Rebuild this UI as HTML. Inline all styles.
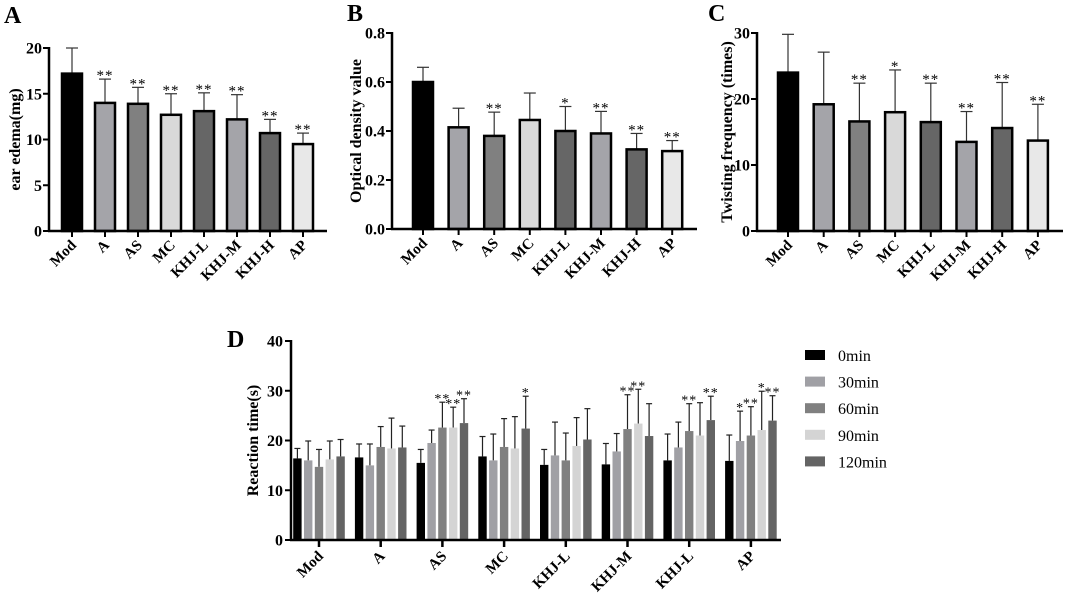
<!DOCTYPE html>
<html><head><meta charset="utf-8"><style>
body{margin:0;background:#fff}
svg{display:block;font-family:"Liberation Serif",serif;font-weight:bold}
</style></head><body>
<svg id="s" width="1065" height="604" viewBox="0 0 1065 604">
<text x="4" y="23" font-size="24">A</text>
<text x="347" y="21" font-size="24">B</text>
<text x="708" y="21" font-size="24">C</text>
<text x="227" y="347" font-size="24">D</text>
</svg>
<script>
const groups=["Mod","A","AS","MC","KHJ-L","KHJ-M","KHJ-H","AP"];
const aMeans=[17.2,14.0,13.9,12.7,13.1,12.2,10.7,9.5];
const aErr=[2.8,2.6,1.8,2.3,2.0,2.7,1.5,1.2];
const aStars=["","**","**","**","**","**","**","**"];
const aTicks=[0,5,10,15,20];
const bMeans=[0.60,0.415,0.38,0.445,0.40,0.39,0.325,0.318];
const bErr=[0.06,0.078,0.097,0.11,0.10,0.09,0.065,0.043];
const bStars=["","","**","","*","**","**","**"];
const bTicks=[0,0.2,0.4,0.6,0.8];
const cMeans=[24,19.2,16.6,18,16.5,13.5,15.6,13.7];
const cErr=[5.8,7.9,5.8,6.4,5.9,4.6,6.9,5.5];
const cStars=["","","**","*","**","**","**","**"];
const cTicks=[0,10,20,30];
const dGroups=["Mod","A","AS","MC","KHJ-L","KHJ-M","KHJ-L","AP"];
const dSeries=["0min","30min","60min","90min","120min"];
const d0=[16.4,16.6,15.5,16.8,15.1,15.2,16.0,15.9];
const d30=[16.0,15.0,19.5,16.0,17.0,17.8,18.6,19.9];
const d60=[14.7,18.7,22.6,18.7,16.0,22.3,21.9,21.0];
const d90=[16.2,18.4,22.6,18.4,18.9,23.4,21.0,22.1];
const d120=[16.8,18.6,23.5,22.4,20.2,20.9,24.1,24.0];
const e0=[2.0,2.7,2.7,4.0,3.1,4.2,5.3,5.2];
const e30=[3.9,4.3,2.6,5.3,6.7,3.6,5.1,6.0];
const e60=[3.5,4.1,5.1,5.7,5.5,6.9,5.5,5.8];
const e90=[3.7,6.1,4.1,6.4,5.7,6.9,6.6,7.8];
const e120=[3.4,4.3,4.9,6.5,6.2,6.5,4.8,5.0];
const s60=["","","**","","","**","**","**"];
const s90=["","","**","","","**","","*"];
const s120=["","","**","*","","","**","**"];
const s30=["","","","","","","","*"];
const dTicks=[0,10,20,30,40];

const svg=document.getElementById('s');
const NS="http://www.w3.org/2000/svg";
function mk(tag,at,txt){const e=document.createElementNS(NS,tag);for(const k in at)e.setAttribute(k,at[k]);if(txt!==undefined)e.textContent=txt;svg.appendChild(e);return e;}
const fillsA=["#000","#a4a4a9","#808080","#d9d9d9","#666","#a4a4a9","#666","#e8e8e8"];

function panel(p){
  const y=v=>p.y0-(v/p.max)*(p.y0-p.yTop);
  const x=i=>p.x0+p.step*i;
  p.means.forEach((m,i)=>{
    const cx=x(i);
    let e=mk('line',{x1:cx,x2:cx,y1:y(m),y2:y(m+p.err[i]),stroke:'#333','stroke-width':1.2});
    
    e=mk('line',{x1:cx-6,x2:cx+6,y1:y(m+p.err[i]),y2:y(m+p.err[i]),stroke:'#333','stroke-width':1.2});
    
    e=mk('rect',{x:cx-10,y:y(m),width:20,height:p.y0-y(m),fill:fillsA[i],stroke:'#000','stroke-width':2.5});
    
    if(p.stars[i]){e=mk('text',{x:cx,y:y(m+p.err[i])+1,'font-size':15,'text-anchor':'middle','font-weight':'normal','letter-spacing':'1'},p.stars[i]);
      }
    e=mk('line',{x1:cx,x2:cx,y1:p.y0,y2:p.y0+6,stroke:'#000','stroke-width':2});
    
    e=mk('text',{x:cx+5,y:p.y0+15,'font-size':15,'text-anchor':'end',transform:`rotate(-45 ${cx+5} ${p.y0+15})`},groups[i]);
    
  });
  let e=mk('line',{x1:p.ax,x2:p.ax,y1:p.yTop-1,y2:p.y0+1,stroke:'#000','stroke-width':2.5});
  
  e=mk('line',{x1:p.ax-1,x2:p.xEnd,y1:p.y0,y2:p.y0,stroke:'#000','stroke-width':2.5});
  
  p.ticks.forEach(t=>{
    let e=mk('line',{x1:p.ax-6,x2:p.ax,y1:y(t),y2:y(t),stroke:'#000','stroke-width':2});
    
    e=mk('text',{x:p.ax-7,y:y(t)+5.5,'font-size':16,'text-anchor':'end'},p.fmt(t));
    
  });
  e=mk('text',{x:0,y:0,'font-size':16,'text-anchor':'middle',transform:`translate(${p.tx} ${(p.y0+p.yTop)/2}) rotate(-90)`},p.title);
  
}
panel({means:aMeans,err:aErr,stars:aStars,ticks:aTicks,max:20,y0:231,yTop:48,x0:72,step:33,ax:49,xEnd:327,fmt:t=>t,title:"ear edema(mg)",tx:20});
panel({means:bMeans,err:bErr,stars:bStars,ticks:bTicks,max:0.8,y0:229,yTop:33,x0:423,step:35.6,ax:392,xEnd:697,fmt:t=>t.toFixed(1),title:"Optical density value",tx:361});
panel({means:cMeans,err:cErr,stars:cStars,ticks:cTicks,max:30,y0:231,yTop:33,x0:788,step:35.7,ax:757,xEnd:1063,fmt:t=>t,title:"Twisting frequency (times)",tx:732});

// Panel D
const dVals=[d0,d30,d60,d90,d120], dErrs=[e0,e30,e60,e90,e120], dSt=[null,s30,s60,s90,s120];
const dCols=["#000","#a0a0a5","#808080","#d4d4d4","#646464"];
const Y0=540,YT=341,yD=v=>Y0-(v/40)*(Y0-YT), xD=i=>319+61.7*i;
dGroups.forEach((g,i)=>{
  dVals.forEach((arr,k)=>{
    const cx=xD(i)+(k-2)*10.8, v=arr[i], ev=v+dErrs[k][i];
    let e=mk('line',{x1:cx,x2:cx,y1:yD(v),y2:yD(ev),stroke:'#222','stroke-width':1.2});
    
    e=mk('line',{x1:cx-3,x2:cx+3,y1:yD(ev),y2:yD(ev),stroke:'#222','stroke-width':1.2});
    
    e=mk('rect',{x:cx-4.2,y:yD(v),width:8.4,height:Y0-yD(v),fill:dCols[k]});
    
    if(dSt[k]&&dSt[k][i]){e=mk('text',{x:cx,y:yD(ev)+1,'font-size':14,'text-anchor':'middle','font-weight':'normal','letter-spacing':'1'},dSt[k][i]);
      }
  });
  let e=mk('line',{x1:xD(i),x2:xD(i),y1:Y0,y2:Y0+7,stroke:'#000','stroke-width':2.5});
  
  e=mk('text',{x:xD(i)+5,y:Y0+17,'font-size':15,'text-anchor':'end',transform:`rotate(-45 ${xD(i)+5} ${Y0+17})`},g);
  
});
let ee=mk('line',{x1:291,x2:291,y1:YT-1,y2:Y0+1,stroke:'#000','stroke-width':2.5});

ee=mk('line',{x1:290,x2:781,y1:Y0,y2:Y0,stroke:'#000','stroke-width':2.5});

dTicks.forEach(t=>{
  let e=mk('line',{x1:285,x2:291,y1:yD(t),y2:yD(t),stroke:'#000','stroke-width':2});
  
  e=mk('text',{x:283,y:yD(t)+5.5,'font-size':16,'text-anchor':'end'},t);
  
});
ee=mk('text',{x:0,y:0,'font-size':16,'text-anchor':'middle',transform:`translate(258 ${(Y0+YT)/2}) rotate(-90)`},"Reaction time(s)");

dSeries.forEach((s,k)=>{
  const yy=355+26.6*k;
  let e=mk('rect',{x:805,y:yy-5,width:20,height:10,fill:dCols[k]});
  
  e=mk('text',{x:838,y:yy+6,'font-size':16,'font-weight':'normal'},s);
  
});
</script>
</body></html>
